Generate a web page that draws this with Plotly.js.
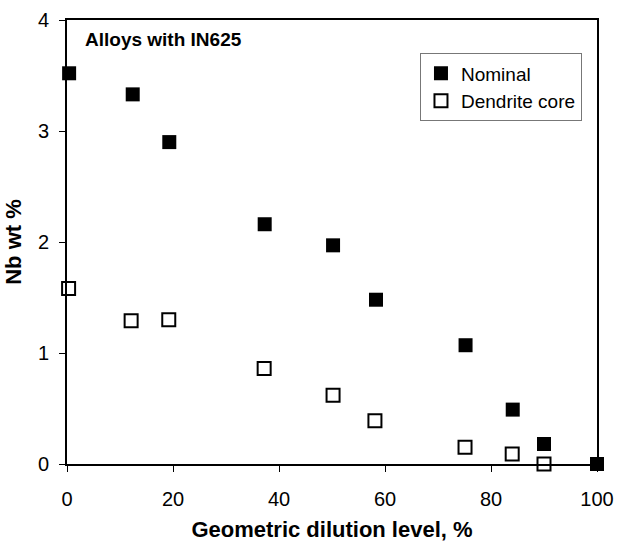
<!DOCTYPE html>
<html>
<head>
<meta charset="utf-8">
<script src="https://cdn.plot.ly/plotly-3.0.1.min.js"></script>
<style>
  html, body { margin: 0; padding: 0; background: #fff; }
  #chart { width: 631px; height: 542px; }
</style>
</head>
<body>
<div id="chart"></div>
<script>
// Geometric dilution level (%) and Nb content (wt %) for alloys made with IN625
const nominalDilution = [0.4, 12.4, 19.3, 37.3, 50.2, 58.3, 75.2, 84.1, 90.0, 100];
const nominalNb       = [3.52, 3.33, 2.90, 2.16, 1.97, 1.48, 1.07, 0.49, 0.18, 0.0];

const coreDilution = [0.3, 12.1, 19.2, 37.2, 50.2, 58.1, 75.1, 84.0, 90.0];
const coreNb       = [1.58, 1.29, 1.30, 0.86, 0.62, 0.39, 0.15, 0.09, 0.0];

const xTicks = [0, 20, 40, 60, 80, 100];
const yTicks = [0, 1, 2, 3, 4];

const FONT = '"Liberation Sans", Arial, sans-serif';

const traces = [
  {
    x: nominalDilution, y: nominalNb, name: 'Nominal',
    type: 'scatter', mode: 'markers', cliponaxis: false,
    marker: { symbol: 'square', size: 14, color: '#000', line: { width: 0 } }
  },
  {
    x: coreDilution, y: coreNb, name: 'Dendrite core',
    type: 'scatter', mode: 'markers', cliponaxis: false,
    marker: { symbol: 'square-open', size: 13, color: '#000', line: { width: 2 } }
  }
];

const layout = {
  width: 631, height: 542,
  margin: { l: 67, r: 34, t: 20, b: 78 },
  paper_bgcolor: '#fff', plot_bgcolor: '#fff',
  font: { family: FONT, color: '#000', size: 19 },
  showlegend: true,
  xaxis: {
    range: [0, 100], tickvals: xTicks, ticktext: xTicks.map(String),
    showgrid: false, zeroline: false,
    showline: true, linecolor: '#000', linewidth: 2, mirror: true,
    ticks: 'outside', ticklen: 6, tickwidth: 1, tickcolor: '#000',
    tickfont: { size: 20, family: FONT, color: '#000' },
    ticklabelstandoff: 10,
    title: { text: '<b>Geometric dilution level, %</b>', font: { size: 22, family: FONT }, standoff: 15 }
  },
  yaxis: {
    range: [0, 4], tickvals: yTicks, ticktext: yTicks.map(String),
    showgrid: false, zeroline: false,
    showline: true, linecolor: '#000', linewidth: 2, mirror: true,
    ticks: 'outside', ticklen: 6, tickwidth: 1, tickcolor: '#000',
    tickfont: { size: 20, family: FONT, color: '#000' },
    ticklabelstandoff: 6,
    title: { text: '<b>Nb wt %</b>', font: { size: 22, family: FONT }, standoff: 10 }
  },
  legend: {
    x: 0.666, y: 0.925, xanchor: 'left', yanchor: 'top',
    bgcolor: '#fff', bordercolor: '#777', borderwidth: 1,
    font: { size: 19, family: FONT, color: '#000' },
    itemwidth: 30, tracegroupgap: 0
  },
  annotations: [
    {
      xref: 'paper', yref: 'paper', x: 0.03, y: 0.985,
      xanchor: 'left', yanchor: 'top', showarrow: false,
      text: '<b>Alloys with IN625</b>',
      font: { size: 19, family: FONT, color: '#000' }
    }
  ]
};

Plotly.newPlot('chart', traces, layout, { staticPlot: true, displayModeBar: false });
</script>
</body>
</html>
